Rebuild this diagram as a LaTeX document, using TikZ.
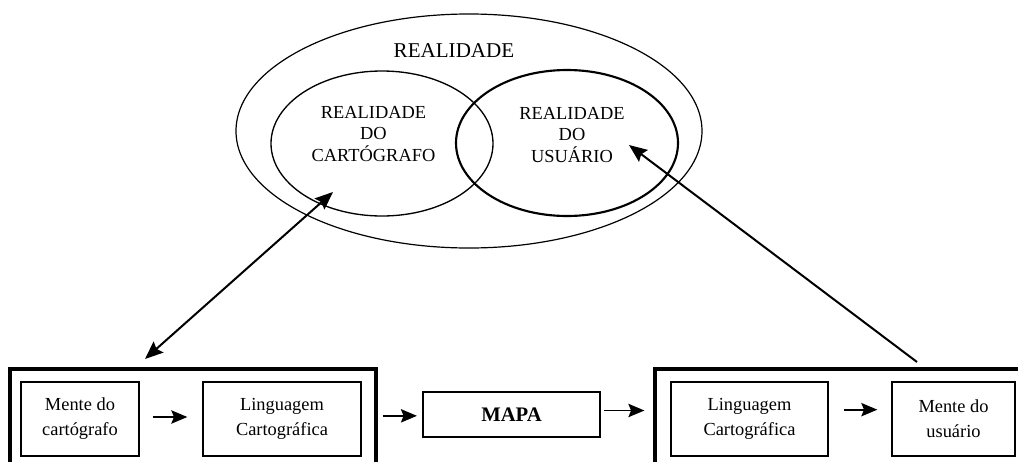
\documentclass[tikz,border=0pt]{standalone}
\usepackage{fontspec}
\setmainfont{Liberation Serif}
\usetikzlibrary{shapes.geometric,arrows.meta}
\newcommand\pxu{0.75pt}
\begin{document}
\begin{tikzpicture}[x=0.75pt,y=-0.75pt,
  boxtext/.style={font=\fontsize{13.8}{18.75}\selectfont, align=center},
  elltext/.style={font=\fontsize{13.8}{16.1}\selectfont, align=center},
  smallbox/.style={draw, line width=1pt, minimum height=74*\pxu, inner sep=0pt, boxtext},
  bigbox/.style={draw, line width=2.4pt, inner sep=0pt},
  ell/.style={draw, ellipse, inner sep=0pt},
  arr/.style={line width=1.3pt, -{Stealth[length=12pt, width=10pt, inset=2pt]}},
  diag/.style={line width=1.5pt, -{Stealth[length=13.5pt, width=11pt, inset=2pt]}}
]
\clip (0,0) rectangle (1018,461);
\fill[white] (0,0) rectangle (1018,461);

% ellipses
\node[ell, line width=0.9pt, minimum width=466*\pxu, minimum height=234*\pxu] (real) at (469,131) {};
\node[ell, line width=1pt, minimum width=222*\pxu, minimum height=145*\pxu] (cart) at (382,143.5) {};
\node[ell, line width=1.6pt, minimum width=222*\pxu, minimum height=146*\pxu] (usu) at (567,143) {};

\node[font=\fontsize{15.8}{18}\selectfont] (treal) at (454,51) {REALIDADE};
\node[elltext] (tcart) at (373.5,134) {REALIDADE\\DO\\CARTÓGRAFO};
\node[elltext] (tusu) at (572,135) {REALIDADE\\DO\\USUÁRIO};

% big boxes (open at the bottom, cut by the page)
\node[bigbox, minimum width=366*\pxu, minimum height=140*\pxu] (lbig) at (193,439) {};
\node[bigbox, minimum width=400*\pxu, minimum height=140*\pxu] (rbig) at (855,439) {};

% small boxes
\node[smallbox, minimum width=118*\pxu] (m1) at (80,419) {Mente do\\cartógrafo};
\node[smallbox, minimum width=158*\pxu] (l1) at (282,419) {Linguagem\\Cartográfica};
\node[draw, line width=1.6pt, minimum width=177*\pxu, minimum height=45*\pxu, inner sep=0pt,
      font=\fontsize{15.5}{18}\selectfont\bfseries] (mapa) at (511.5,414.5) {MAPA};
\node[smallbox, minimum width=157*\pxu] (l2) at (749.5,419) {Linguagem\\Cartográfica};
\node[smallbox, minimum width=123*\pxu] (m2) at (953.5,419) {Mente do\\usuário};

% horizontal arrows
\draw[arr, shorten <=13*\pxu, shorten >=15*\pxu] ([yshift=1.5pt]m1.east) -- ([yshift=1.5pt]l1.west);
\draw[arr, shorten <=5*\pxu, shorten >=5*\pxu] ([yshift=-1pt]mapa.west -| lbig.east) -- ([yshift=-1pt]mapa.west);
\draw[arr, shorten <=3*\pxu, shorten >=9*\pxu] ([yshift=3pt]mapa.east) -- ([yshift=3pt]mapa.east -| rbig.west);
\draw[arr, shorten <=15*\pxu, shorten >=14*\pxu] ([yshift=7pt]l2.east) -- ([yshift=7pt]m2.west);

% diagonal arrows
\coordinate (d1) at (145,359);
\coordinate (d2) at (333,192);
\draw[diag, {Stealth[length=13.5pt, width=11pt, inset=2pt]}-{Stealth[length=13.5pt, width=11pt, inset=2pt]}] (d1) -- (d2);
\coordinate (u1) at (917,362);
\coordinate (u2) at (629,145);
\draw[diag] (u1) -- (u2);
\end{tikzpicture}
\end{document}
